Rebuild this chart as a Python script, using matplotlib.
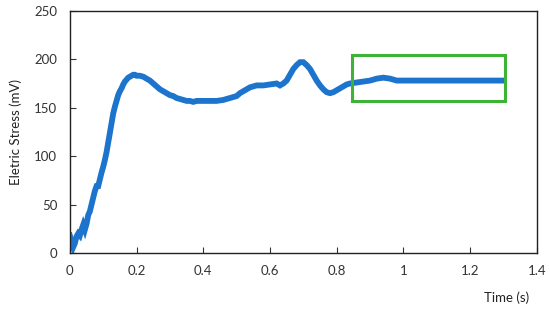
import matplotlib
matplotlib.use("Agg")
import matplotlib.pyplot as plt
from matplotlib.patches import Rectangle

time_s = [0.000, 0.005, 0.010, 0.015, 0.020, 0.025, 0.030, 0.035, 0.040, 0.045,
          0.050, 0.055, 0.060, 0.065, 0.070, 0.075, 0.080, 0.085, 0.090, 0.095,
          0.100, 0.105, 0.110, 0.115, 0.120, 0.125, 0.130, 0.135, 0.140, 0.145,
          0.150, 0.155, 0.160, 0.165, 0.170, 0.175, 0.180, 0.185, 0.190, 0.195,
          0.200, 0.210, 0.220, 0.230, 0.240, 0.250, 0.260, 0.270, 0.280, 0.290,
          0.300, 0.310, 0.320, 0.330, 0.340, 0.350, 0.360, 0.370, 0.380, 0.390,
          0.400, 0.420, 0.440, 0.460, 0.480, 0.500, 0.510, 0.520, 0.530, 0.540,
          0.550, 0.560, 0.580, 0.600, 0.620, 0.630, 0.640, 0.650, 0.660, 0.670,
          0.680, 0.690, 0.700, 0.710, 0.720, 0.730, 0.740, 0.750, 0.760, 0.770,
          0.780, 0.790, 0.800, 0.810, 0.820, 0.830, 0.840, 0.860, 0.880, 0.900,
          0.920, 0.940, 0.960, 0.980, 1.000, 1.050, 1.100, 1.150, 1.200, 1.250, 1.300]
stress_mv = [18, 12, 6, 10, 17, 20, 18, 24, 29, 24,
             30, 39, 43, 50, 57, 64, 69, 69, 76, 83,
             89, 96, 104, 114, 124, 134, 144, 151, 157, 163,
             167, 170, 174, 177, 179, 181, 182, 183, 184, 184,
             183, 183, 182, 180, 178, 175, 172, 169, 167, 165,
             163, 162, 160, 159, 158, 157, 157, 156, 157, 157,
             157, 157, 157, 158, 160, 162, 165, 167, 169, 171,
             172, 173, 173, 174, 175, 173, 175, 178, 184, 190,
             194, 197, 197, 194, 190, 184, 178, 173, 169, 166,
             165, 166, 168, 170, 172, 174, 175, 176, 177, 178,
             180, 181, 180, 178, 178, 178, 178, 178, 178, 178, 178]

x_ticks = [0, 0.2, 0.4, 0.6, 0.8, 1.0, 1.2, 1.4]
x_tick_labels = ["0", "0.2", "0.4", "0.6", "0.8", "1", "1.2", "1.4"]
y_ticks = [0, 50, 100, 150, 200, 250]
box_x = [0.845, 1.305]
box_y = [157, 204]

plt.rcParams['font.family'] = ['Lato', 'DejaVu Sans']
fig = plt.figure(figsize=(5.5, 3.1), dpi=100)
ax = fig.add_axes([0.127, 0.184, 0.849, 0.781])
ax.plot(time_s, stress_mv, color="#1C74CC", linewidth=4.2, solid_joinstyle="miter")
ax.add_patch(Rectangle((box_x[0], box_y[0]), box_x[1] - box_x[0], box_y[1] - box_y[0],
                       fill=False, edgecolor="#3DB337", linewidth=2.2, zorder=5))
ax.set_xlim(0, 1.4)
ax.set_ylim(0, 250)
ax.set_xticks(x_ticks)
ax.set_xticklabels(x_tick_labels)
ax.set_yticks(y_ticks)
ax.tick_params(direction="in", length=4, labelsize=9.5, colors="#333333")
ax.tick_params(axis="x", pad=9)
ax.tick_params(axis="y", pad=9)
for s in ax.spines.values():
    s.set_color("#222222")
    s.set_linewidth(1.0)
ax.set_ylabel("Eletric Stress (mV)", fontsize=9.5, labelpad=9, color="#222222")
fig.text(0.962, 0.018, "Time (s)", ha="right", va="bottom", fontsize=9.5, color="#222222")
fig.savefig("out.png", dpi=100)
